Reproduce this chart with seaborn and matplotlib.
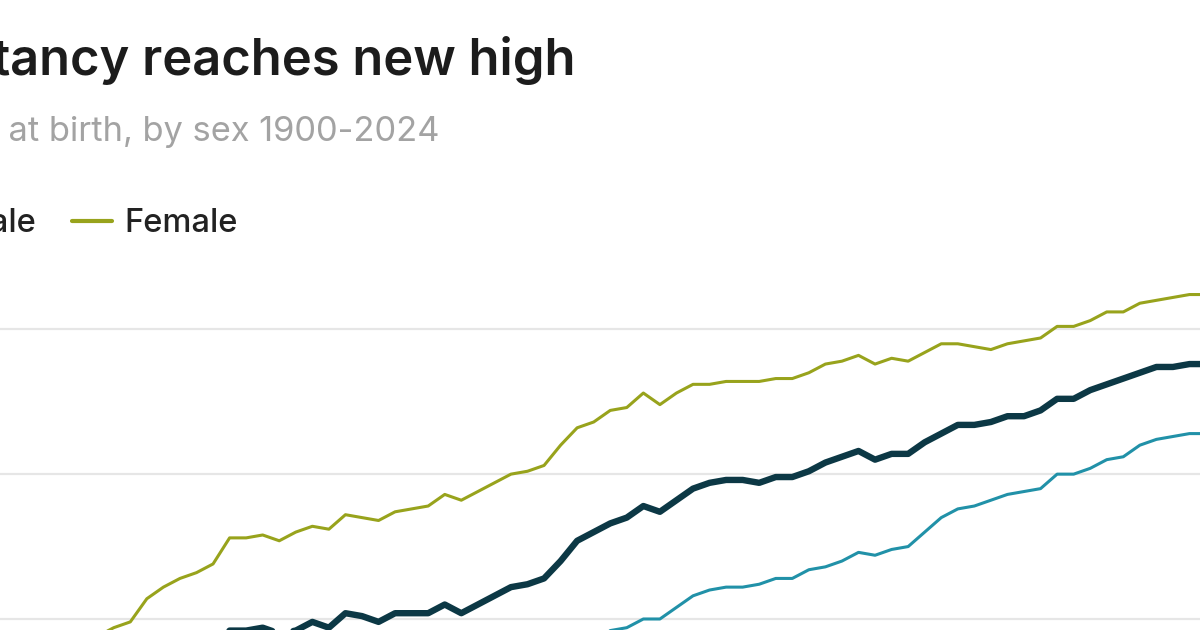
import matplotlib
matplotlib.use("Agg")
import matplotlib.pyplot as plt
import seaborn as sns
import pandas as pd

# ---- data (US life expectancy at birth) ----
female_years = list(range(1946, 2014))
female = [69.4, 69.7, 69.9, 70.7, 71.1, 71.4, 71.6, 71.9, 72.8, 72.8,
          72.9, 72.7, 73.0, 73.2, 73.1, 73.6, 73.5, 73.4, 73.7, 73.8,
          73.9, 74.3, 74.1, 74.4, 74.7, 75.0, 75.1, 75.3, 76.0, 76.6,
          76.8, 77.2, 77.3, 77.8, 77.4, 77.8, 78.1, 78.1, 78.2, 78.2,
          78.2, 78.3, 78.3, 78.5, 78.8, 78.9, 79.1, 78.8, 79.0, 78.9,
          79.2, 79.5, 79.5, 79.4, 79.3, 79.5, 79.6, 79.7, 80.1, 80.1,
          80.3, 80.6, 80.6, 80.9, 81.0, 81.1, 81.2, 81.2]

total_years = list(range(1952, 2014))
total = [68.6, 68.8, 69.6, 69.6, 69.7, 69.5, 69.6, 69.9, 69.7, 70.2,
         70.1, 69.9, 70.2, 70.2, 70.2, 70.5, 70.2, 70.5, 70.8, 71.1,
         71.2, 71.4, 72.0, 72.7, 73.0, 73.3, 73.5, 73.9, 73.7, 74.1,
         74.5, 74.7, 74.8, 74.8, 74.7, 74.9, 74.9, 75.1, 75.4, 75.6,
         75.8, 75.5, 75.7, 75.7, 76.1, 76.4, 76.7, 76.7, 76.8, 77.0,
         77.0, 77.2, 77.6, 77.6, 77.9, 78.1, 78.3, 78.5, 78.7, 78.7,
         78.8, 78.8]

male_years = list(range(1975, 2014))
male = [68.8, 69.1, 69.6, 69.7, 70.0, 70.0, 70.4, 70.8, 71.0, 71.1,
        71.1, 71.2, 71.4, 71.4, 71.7, 71.8, 72.0, 72.3, 72.2, 72.4,
        72.5, 73.0, 73.5, 73.8, 73.9, 74.1, 74.3, 74.4, 74.5, 75.0,
        75.0, 75.2, 75.5, 75.6, 76.0, 76.2, 76.3, 76.4, 76.4]

series_labels = ["Total", "Male", "Female"]
y_ticks = [70, 75, 80]

title = "Life expectancy reaches new high"
subtitle = "Life expectancy at birth, by sex 1900-2024"

colors = {"Total": "#0c3845", "Male": "#2191a8", "Female": "#98a31c"}
widths = {"Total": 4.6, "Male": 2.2, "Female": 2.2}

FONT = ["Inter", "DejaVu Sans"]

# ---- figure ----
sns.set_theme(style="white")
plt.rcParams["font.family"] = FONT

fig = plt.figure(figsize=(12, 6.3), dpi=100)
fig.patch.set_facecolor("white")
ax = fig.add_axes([0, 0, 1, 360 / 630])

frames = {
    "Total": pd.DataFrame({"year": total_years, "value": total}),
    "Male": pd.DataFrame({"year": male_years, "value": male}),
    "Female": pd.DataFrame({"year": female_years, "value": female}),
}
for name in series_labels:
    sns.lineplot(data=frames[name], x="year", y="value", ax=ax,
                 color=colors[name], linewidth=widths[name], label=name,
                 solid_joinstyle="round", solid_capstyle="round")

ax.set_xlim(1940.127, 2012.634)
ax.set_ylim(69.620, 82.047)
ax.set_yticks(y_ticks)
ax.set_xticks([])
ax.set_yticklabels([])
ax.tick_params(length=0)
ax.set_xlabel("")
ax.set_ylabel("")
ax.grid(axis="y", color="#e6e6e6", linewidth=1.6)
ax.grid(axis="x", visible=False)
ax.set_axisbelow(True)
for s in ax.spines.values():
    s.set_visible(False)
ax.set_facecolor("white")

handles, labels = ax.get_legend_handles_labels()
leg = ax.legend(handles, labels, ncol=3, frameon=False,
                loc="lower right", bbox_to_anchor=(238 / 1200, 1 - 239 / 630),
                bbox_transform=fig.transFigure,
                prop={"family": FONT, "weight": "medium", "size": 23.5},
                handlelength=1.2, handletextpad=0.4, columnspacing=1.1,
                borderpad=0, borderaxespad=0)
for t in leg.get_texts():
    t.set_color("#222222")
for ln in leg.get_lines():
    ln.set_linewidth(3)

fig.text(576 / 1200, 1 - 75 / 630, title, ha="right", va="baseline",
         fontsize=36.5, fontweight="semibold", color="#1c1c1c")
fig.text(440 / 1200, 1 - 141 / 630, subtitle, ha="right", va="baseline",
         fontsize=24.8, color="#a3a3a3")

fig.savefig("out.png", dpi=100, facecolor="white")
